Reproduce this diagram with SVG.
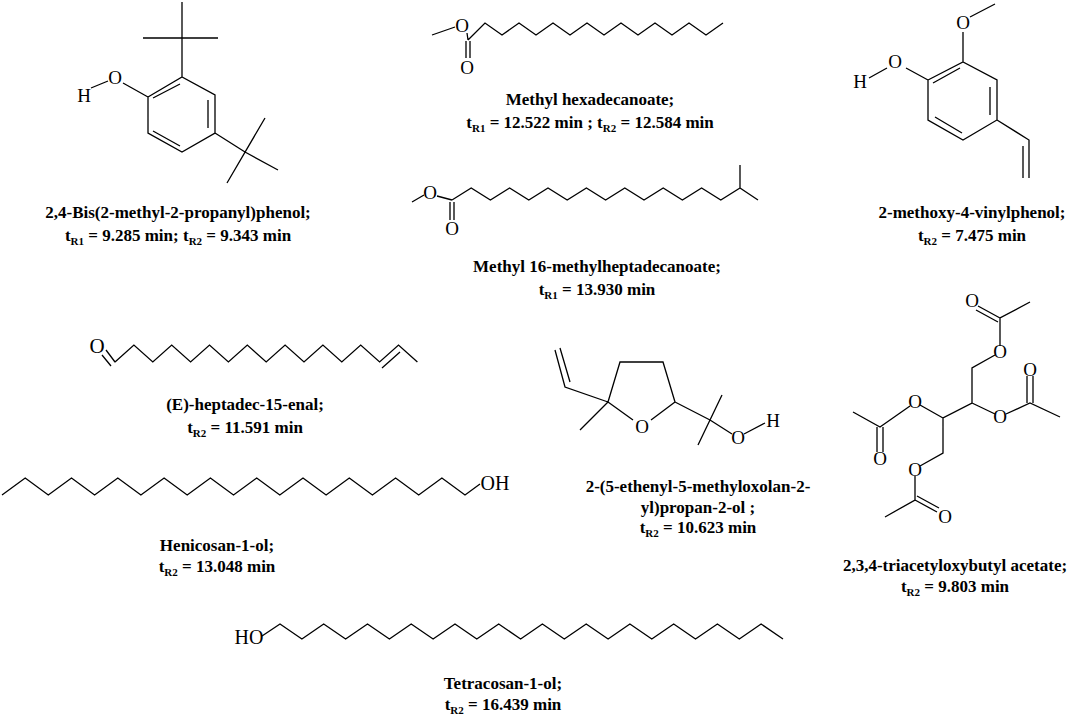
<svg xmlns="http://www.w3.org/2000/svg" width="1081" height="717" viewBox="0 0 1081 717">
<style>
.b{fill:none;stroke:#000;stroke-width:1.3;stroke-linejoin:miter}
text{font-family:'Liberation Serif','DejaVu Serif','Times New Roman',serif;fill:#000;text-anchor:middle}
.a{font-size:19px}
.L{font-size:17px;font-weight:bold}
.s{font-size:11px}
</style>
<rect width="1081" height="717" fill="#fff"/>
<g id="bisphenol">
<path class="b" d="M148,97 L182,77 L215,95 L215,133 L182,152 L148,133 Z M153,98 L180,84 M208,100 L208,128 M153,131 L180,146 M182,77 L182,38 M182,2 L182,38 M143,38 L218,38 M215,133 L245,152 M265,118 L227,183 M245,152 L278,170 M148,97 L123,83 M91,88 L108,81"/>
<text class="a" x="115" y="84">O</text><text class="a" x="84" y="102">H</text>
<text class="L" x="178" y="218">2,4-Bis(2-methyl-2-propanyl)phenol;</text>
<text class="L" x="178" y="241">t<tspan class="s" dy="4">R1</tspan><tspan dy="-4"> = 9.285 min; t</tspan><tspan class="s" dy="4">R2</tspan><tspan dy="-4"> = 9.343 min</tspan></text>
</g>
<g id="methylhexadecanoate">
<path class="b" d="M432,35 L455,27 M467,33 L468,40 M466,41 L466,58 M470,41 L470,58 M468,40 L485,23 L502,35 L519,23 L536,35 L553,23 L570,35 L587,23 L604,35 L621,23 L638,35 L655,23 L672,35 L689,23 L706,35 L723,23"/>
<text class="a" x="462" y="32">O</text><text class="a" x="467" y="74">O</text>
<text class="L" x="590" y="105">Methyl hexadecanoate;</text>
<text class="L" x="590" y="128">t<tspan class="s" dy="4">R1</tspan><tspan dy="-4"> = 12.522 min ; t</tspan><tspan class="s" dy="4">R2</tspan><tspan dy="-4"> =  12.584 min</tspan></text>
</g>
<g id="methylheptadecanoate">
<path class="b" d="M412,202 L424,195 M437,196 L452,200 M450,202 L450,220 M454,202 L454,220 M452,200 L471.2,188 L490.4,200 L509.6,188 L528.8,200 L548,188 L567.2,200 L586.4,188 L605.6,200 L624.8,188 L644,200 L663.2,188 L682.4,200 L701.6,188 L720.8,200 L740,188 L758,200 M740,188 L740,165"/>
<text class="a" x="430" y="199">O</text><text class="a" x="452" y="235">O</text>
<text class="L" x="597" y="272">Methyl 16-methylheptadecanoate;</text>
<text class="L" x="597" y="295">t<tspan class="s" dy="4">R1</tspan><tspan dy="-4"> = 13.930 min</tspan></text>
</g>
<g id="methoxyvinylphenol">
<path class="b" d="M928,80 L963,62 L997,80 L997,120 L963,140 L928,120 Z M933,83 L960,68 M990,87 L990,115 M935,117 L962,133 M963,62 L963,32 M970,17 L995,4 M928,80 L906,68 M869,78 L887,68 M997,120 L1029,140 L1029,178 M1023,146 L1023,178"/>
<text class="a" x="963" y="29">O</text><text class="a" x="895" y="68">O</text><text class="a" x="860" y="88">H</text>
<text class="L" x="972" y="218">2-methoxy-4-vinylphenol;</text>
<text class="L" x="972" y="241">t<tspan class="s" dy="4">R2</tspan><tspan dy="-4"> = 7.475 min</tspan></text>
</g>
<g id="heptadecenal">
<path class="b" d="M106,350 L115,362 M102,355 L111,366 M115,362 L133.9,345 L152.8,362 L171.7,345 L190.6,362 L209.5,345 L228.4,362 L247.3,345 L266.2,362 L285.1,345 L304,362 L322.9,345 L341.8,362 L360.7,345 L379.6,362 L398.5,345 L417.4,362 M382,368 L400,352"/>
<text class="a" x="97" y="353" style="font-size:21px">O</text>
<text class="L" x="245" y="410">(E)-heptadec-15-enal;</text>
<text class="L" x="245" y="433">t<tspan class="s" dy="4">R2</tspan><tspan dy="-4"> = 11.591 min</tspan></text>
</g>
<g id="henicosanol">
<path class="b" d="M2,495 L25.2,478 L48.3,495 L71.5,478 L94.6,495 L117.8,478 L140.9,495 L164.1,478 L187.2,495 L210.4,478 L233.5,495 L256.7,478 L279.8,495 L303,478 L326.1,495 L349.3,478 L372.4,495 L395.6,478 L418.7,495 L441.9,478 L465,495 L480,484"/>
<text class="a" x="495" y="490" style="font-size:20px">OH</text>
<text class="L" x="217" y="551">Henicosan-1-ol;</text>
<text class="L" x="217" y="572">t<tspan class="s" dy="4">R2</tspan><tspan dy="-4"> = 13.048 min</tspan></text>
</g>
<g id="oxolane">
<path class="b" d="M608,402 L620,362 L663,362 L675,402 M608,402 L633,420 M651,420 L675,402 M608,402 L565,387 L555,350 M570,382 L560,348 M608,402 L580,430 M675,402 L710,420 M722,395 L698,445 M710,420 L732,434 M744,434 L765,423"/>
<text class="a" x="642" y="433">O</text><text class="a" x="738" y="444">O</text><text class="a" x="773" y="427">H</text>
<text class="L" x="698" y="492">2-(5-ethenyl-5-methyloxolan-2-</text>
<text class="L" x="698" y="513">yl)propan-2-ol ;</text>
<text class="L" x="698" y="533">t<tspan class="s" dy="4">R2</tspan><tspan dy="-4"> =  10.623 min</tspan></text>
</g>
<g id="triacetyloxybutyl">
<path class="b" d="M995,355 L972,368 L972,403 L943,418 L943,453 L920,466 M972,403 L995,414 M1006,414 L1030,403 L1060,417 M1027,403 L1027,376 M1033,403 L1033,376 M943,418 L920,405 M910,406 L880,427 L853,412 M877,427 L877,452 M883,427 L883,452 M1000,346 L1000,318 L1030,302 M1000,318 L978,306 M998,322 L976,310 M915,476 L915,500 L885,517 M915,500 L937,512 M917,496 L939,508"/>
<text class="a" x="1000" y="358">O</text><text class="a" x="1030" y="376">O</text><text class="a" x="1000" y="423">O</text>
<text class="a" x="972" y="307">O</text><text class="a" x="915" y="408">O</text><text class="a" x="880" y="465">O</text>
<text class="a" x="915" y="476">O</text><text class="a" x="945" y="523">O</text>
<text class="L" x="955" y="571">2,3,4-triacetyloxybutyl acetate;</text>
<text class="L" x="955" y="592">t<tspan class="s" dy="4">R2</tspan><tspan dy="-4"> = 9.803 min</tspan></text>
</g>
<g id="tetracosanol">
<path class="b" d="M262,636 L280,624 L301.9,639 L323.7,624 L345.6,639 L367.5,624 L389.4,639 L411.2,624 L433.1,639 L455,624 L476.8,639 L498.7,624 L520.6,639 L542.4,624 L564.3,639 L586.2,624 L608.1,639 L629.9,624 L651.8,639 L673.7,624 L695.5,639 L717.4,624 L739.3,639 L761.1,624 L783,639"/>
<text class="a" x="249" y="644" style="font-size:20px">HO</text>
<text class="L" x="503" y="689">Tetracosan-1-ol;</text>
<text class="L" x="503" y="710">t<tspan class="s" dy="4">R2</tspan><tspan dy="-4"> = 16.439 min</tspan></text>
</g>
</svg>
